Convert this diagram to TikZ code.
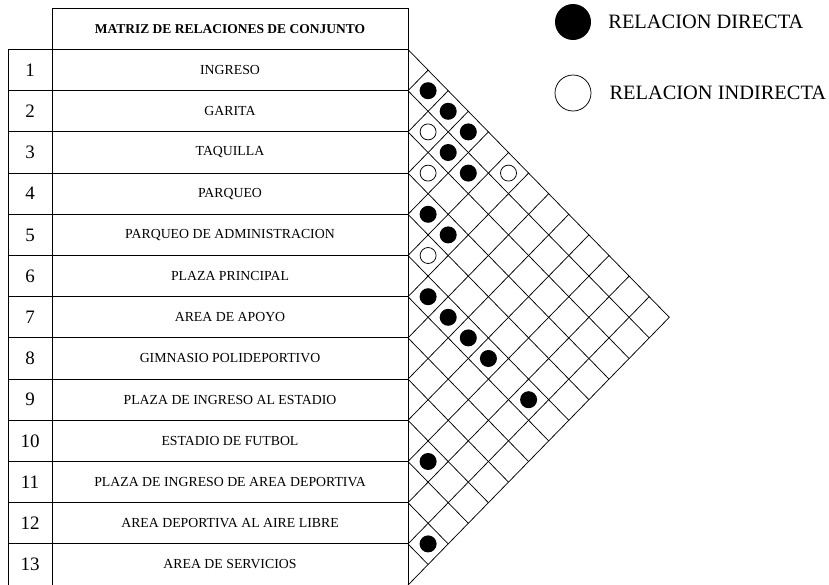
\documentclass[tikz,border=0pt]{standalone}
\usepackage{fontspec}
\setmainfont{Liberation Serif}
\usepackage{tikz}
\usetikzlibrary{positioning, calc}

\begin{document}
\begin{tikzpicture}[
    x=1pt, y=-1pt,
    numcell/.style={draw, rectangle, minimum width=44pt, minimum height=41.2pt, inner sep=0pt, outer sep=0pt, line width=1pt, font=\fontsize{19}{19}\selectfont},
    namecell/.style={draw, rectangle, minimum width=356pt, minimum height=41.2pt, inner sep=0pt, outer sep=0pt, line width=1pt, font=\fontsize{13.8}{13.8}\selectfont},
    hdr/.style={namecell, minimum height=41.5pt, font=\fontsize{13.5}{13.5}\selectfont\bfseries},
    gridline/.style={line width=0.75pt},
    direct/.style={circle, fill=black, minimum size=17pt, inner sep=0pt},
    indirect/.style={circle, draw, fill=white, minimum size=16pt, inner sep=0pt, line width=0.75pt},
    legend/.style={inner sep=0pt, font=\fontsize{20.4}{20.4}\selectfont},
]
\useasboundingbox (0,0) rectangle (829,584);

\def\ytop{49.5}
\def\rowh{41.2}
\def\dx{20.1}
\def\dy{20.6}

% === Table: header and the 13 rows ===
\node[hdr] (head) at (230, 28.75) {MATRIZ DE RELACIONES DE CONJUNTO};
\foreach \i/\name in {1/INGRESO, 2/GARITA, 3/TAQUILLA, 4/PARQUEO,
    5/PARQUEO DE ADMINISTRACION, 6/PLAZA PRINCIPAL, 7/AREA DE APOYO,
    8/GIMNASIO POLIDEPORTIVO, 9/PLAZA DE INGRESO AL ESTADIO,
    10/ESTADIO DE FUTBOL, 11/PLAZA DE INGRESO DE AREA DEPORTIVA,
    12/AREA DEPORTIVA AL AIRE LIBRE, 13/AREA DE SERVICIOS} {
  \node[numcell] (n\i) at (30, {\ytop+(\i-0.5)*\rowh}) {\i};
  \node[namecell] (r\i) at (230, {\ytop+(\i-0.5)*\rowh}) {\name};
}

% === Relation grid (diamonds) ===
\draw[gridline] (r1.north east) -- ++({13*\dx}, {13*\dy});
\foreach \m in {1,...,12} {
  \draw[gridline] (r\m.south east) -- ++({(13-\m)*\dx}, {(13-\m)*\dy});
}
\foreach \m in {1,...,13} {
  \draw[gridline] (r\m.south east) -- ++({\m*\dx}, {-\m*\dy});
}

% --- Direct relations ---
\foreach \i/\j in {1/2, 1/3, 1/4, 2/4, 2/5, 4/5, 4/6, 6/7, 6/8, 6/9, 6/10, 6/12, 10/11, 12/13} {
  \node[direct] (d\i-\j) at ($(r1.north east)+({(\j-\i)*\dx}, {(\i+\j-1)*\dy})$) {};
}
% --- Indirect relations ---
\foreach \i/\j in {2/3, 3/4, 1/6, 5/6} {
  \node[indirect] (o\i-\j) at ($(r1.north east)+({(\j-\i)*\dx}, {(\i+\j-1)*\dy})$) {};
}

% === Legend ===
\node[direct, minimum size=36pt] (keyd) at (573, 22) {};
\node[legend, right=17pt of keyd] (keydtxt) {RELACION DIRECTA};
\node[indirect, minimum size=36pt] (keyi) at (573, 93) {};
\node[legend, right=18pt of keyi] (keyitxt) {RELACION INDIRECTA};

\end{tikzpicture}
\end{document}
